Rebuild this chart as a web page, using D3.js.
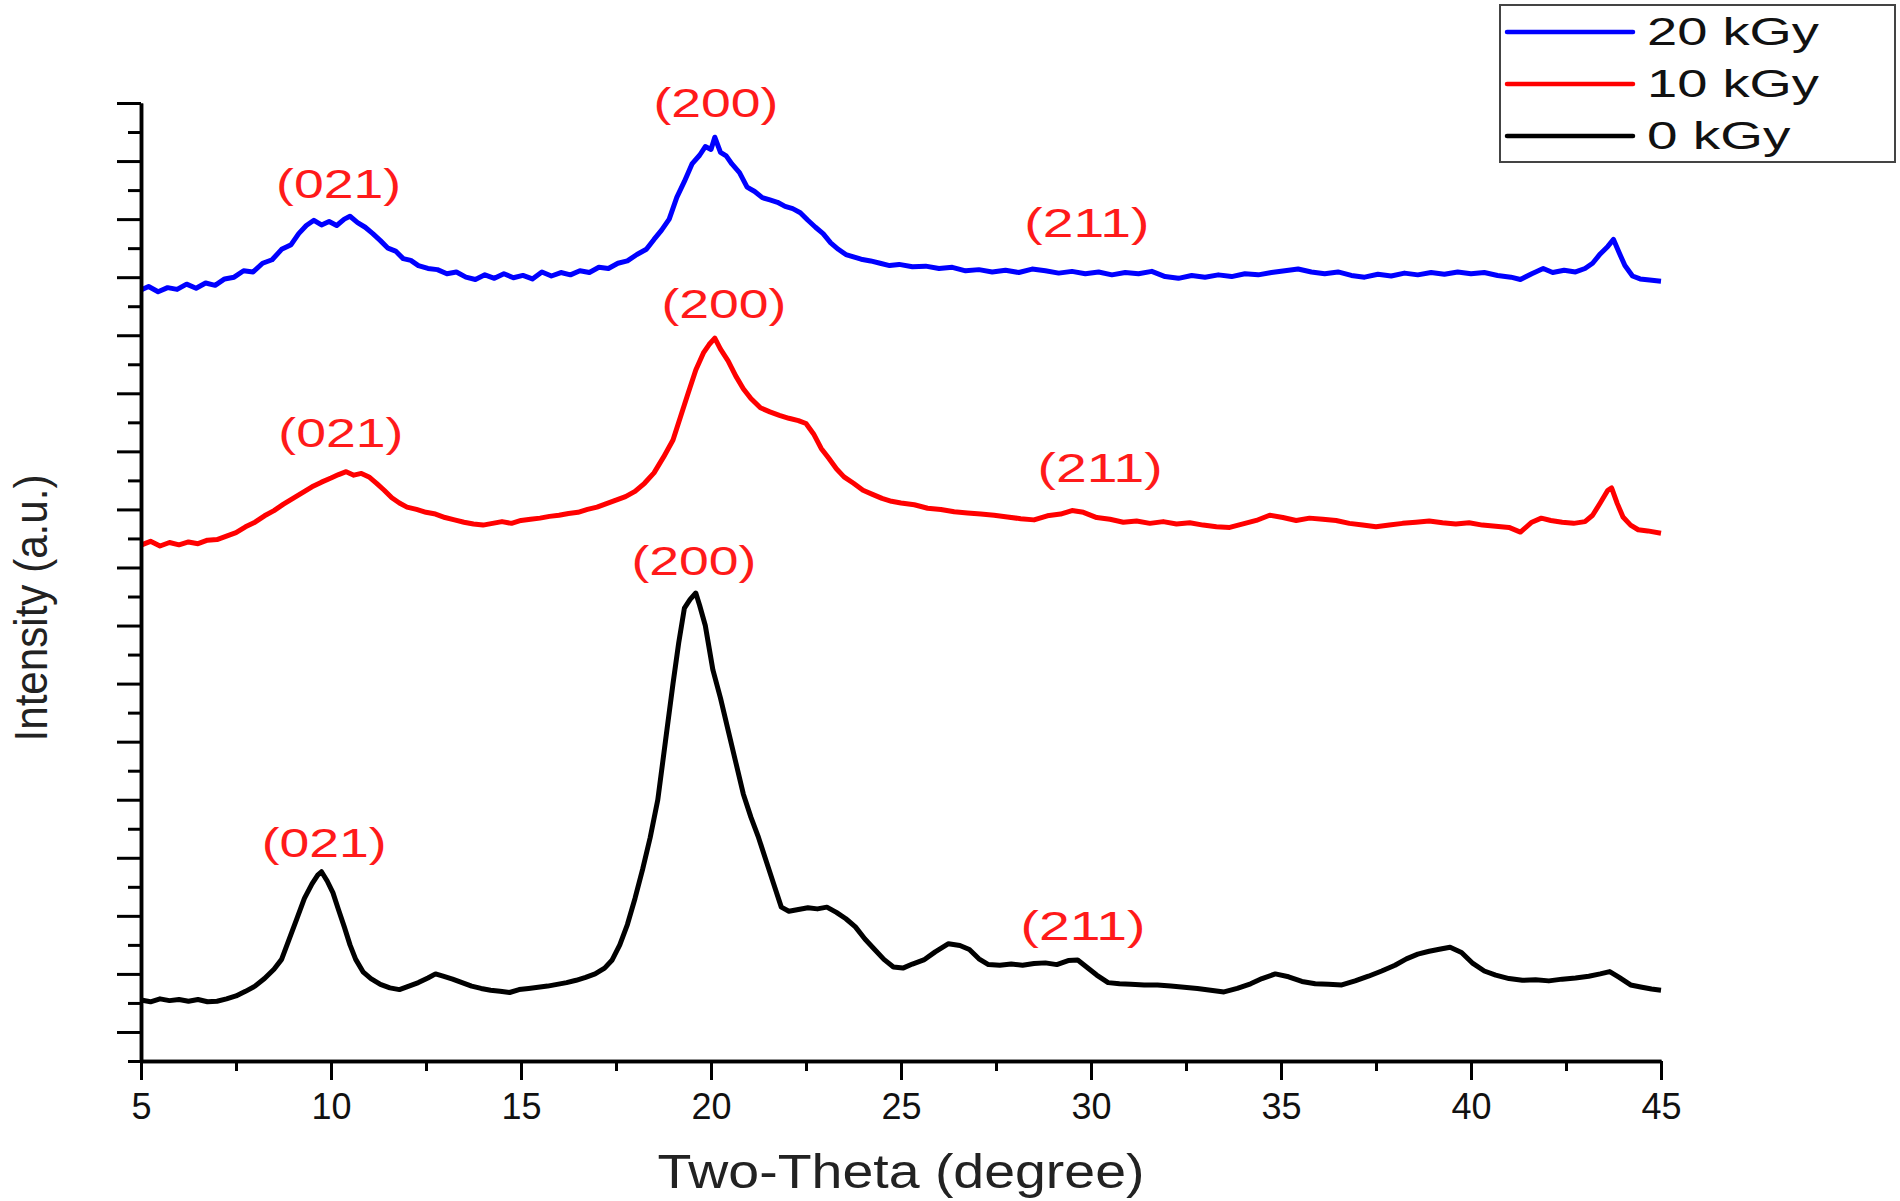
<!DOCTYPE html>
<html>
<head>
<meta charset="utf-8">
<script src="https://cdn.jsdelivr.net/npm/d3@7"></script>
<style>
  body { margin: 0; background: #fff; }
  svg { display: block; font-family: "Liberation Sans", Arial, sans-serif; }
</style>
</head>
<body>
<script>
// XRD patterns: [two-theta (deg), intensity (a.u., offset as plotted)]
const kGy20 = [[5.0,2656],[5.2,2668],[5.45,2650],[5.7,2664],[5.95,2658],[6.2,2676],[6.45,2662],[6.7,2680],[6.95,2672],[7.2,2694],[7.45,2700],[7.7,2722],[7.95,2718],[8.2,2748],[8.45,2760],[8.7,2796],[8.95,2812],[9.15,2850],[9.35,2878],[9.55,2896],[9.75,2880],[9.95,2892],[10.15,2878],[10.35,2900],[10.5,2910],[10.7,2888],[10.9,2872],[11.1,2850],[11.3,2826],[11.5,2800],[11.7,2790],[11.9,2764],[12.1,2758],[12.3,2740],[12.55,2730],[12.8,2726],[13.05,2712],[13.3,2718],[13.55,2700],[13.8,2692],[14.05,2708],[14.3,2696],[14.55,2712],[14.8,2698],[15.05,2706],[15.3,2694],[15.55,2718],[15.8,2704],[16.05,2716],[16.3,2708],[16.55,2722],[16.8,2716],[17.05,2734],[17.3,2730],[17.55,2748],[17.8,2756],[18.05,2778],[18.3,2796],[18.5,2830],[18.7,2862],[18.9,2900],[19.1,2975],[19.3,3030],[19.5,3090],[19.7,3120],[19.85,3150],[20.0,3140],[20.1,3182],[20.25,3130],[20.4,3118],[20.55,3090],[20.75,3060],[20.95,3010],[21.15,2995],[21.35,2974],[21.55,2966],[21.75,2958],[21.95,2944],[22.15,2936],[22.35,2922],[22.55,2896],[22.75,2872],[22.95,2850],[23.15,2818],[23.35,2796],[23.55,2778],[23.75,2770],[23.95,2762],[24.2,2756],[24.45,2748],[24.7,2740],[24.95,2744],[25.3,2736],[25.65,2738],[26.0,2730],[26.35,2734],[26.7,2722],[27.05,2726],[27.4,2718],[27.75,2724],[28.1,2716],[28.45,2728],[28.8,2722],[29.15,2714],[29.5,2720],[29.85,2712],[30.2,2718],[30.55,2708],[30.9,2716],[31.25,2712],[31.6,2720],[31.95,2702],[32.3,2696],[32.65,2706],[33.0,2700],[33.35,2708],[33.7,2702],[34.05,2712],[34.4,2708],[34.75,2716],[35.1,2722],[35.45,2728],[35.8,2718],[36.15,2712],[36.5,2718],[36.85,2706],[37.2,2700],[37.55,2710],[37.9,2704],[38.25,2714],[38.6,2708],[38.95,2716],[39.3,2710],[39.65,2718],[40.0,2712],[40.35,2716],[40.7,2706],[41.05,2700],[41.3,2692],[41.6,2712],[41.9,2730],[42.15,2716],[42.45,2724],[42.75,2718],[43.0,2730],[43.2,2748],[43.4,2780],[43.6,2806],[43.75,2830],[43.9,2784],[44.05,2740],[44.25,2704],[44.45,2694],[44.7,2690],[45.0,2686]];

const kGy10 = [[5.0,1777],[5.25,1790],[5.5,1774],[5.75,1786],[6.0,1778],[6.25,1788],[6.5,1782],[6.75,1794],[7.0,1796],[7.25,1808],[7.5,1820],[7.75,1840],[8.0,1856],[8.25,1878],[8.5,1896],[8.75,1918],[9.0,1938],[9.25,1958],[9.5,1978],[9.75,1994],[10.0,2008],[10.2,2020],[10.4,2030],[10.6,2018],[10.8,2024],[11.0,2012],[11.2,1990],[11.4,1966],[11.6,1940],[11.8,1922],[12.0,1908],[12.25,1900],[12.5,1890],[12.75,1884],[13.0,1872],[13.25,1864],[13.5,1856],[13.75,1850],[14.0,1846],[14.25,1852],[14.5,1858],[14.75,1852],[15.0,1862],[15.25,1866],[15.5,1870],[15.75,1876],[16.0,1880],[16.25,1886],[16.5,1890],[16.75,1900],[17.0,1908],[17.25,1920],[17.5,1932],[17.75,1944],[18.0,1962],[18.25,1990],[18.5,2026],[18.75,2080],[19.0,2139],[19.2,2220],[19.4,2301],[19.6,2380],[19.8,2439],[19.95,2468],[20.1,2490],[20.25,2452],[20.45,2412],[20.65,2360],[20.85,2316],[21.05,2282],[21.3,2250],[21.55,2236],[21.8,2224],[22.05,2214],[22.3,2206],[22.5,2196],[22.7,2160],[22.9,2110],[23.1,2076],[23.3,2040],[23.5,2012],[23.75,1990],[24.0,1966],[24.25,1952],[24.5,1938],[24.75,1928],[25.0,1922],[25.35,1916],[25.7,1904],[26.05,1900],[26.4,1892],[26.75,1888],[27.1,1884],[27.45,1880],[27.8,1874],[28.15,1868],[28.5,1864],[28.85,1878],[29.2,1884],[29.5,1896],[29.8,1890],[30.15,1872],[30.5,1866],[30.85,1856],[31.2,1860],[31.55,1852],[31.9,1858],[32.25,1850],[32.6,1854],[32.95,1846],[33.3,1840],[33.65,1838],[34.0,1850],[34.35,1862],[34.7,1880],[35.05,1872],[35.4,1862],[35.75,1870],[36.1,1866],[36.45,1862],[36.8,1852],[37.15,1846],[37.5,1840],[37.85,1846],[38.2,1852],[38.55,1856],[38.9,1860],[39.25,1854],[39.6,1850],[39.95,1854],[40.3,1846],[40.65,1842],[41.0,1838],[41.3,1822],[41.6,1856],[41.85,1870],[42.1,1862],[42.4,1856],[42.7,1852],[43.0,1858],[43.2,1880],[43.4,1922],[43.6,1966],[43.7,1974],[43.85,1920],[44.0,1874],[44.2,1846],[44.4,1830],[44.65,1826],[45.0,1818]];

const kGy0 = [[5.0,210],[5.25,204],[5.5,214],[5.75,208],[6.0,212],[6.25,206],[6.5,212],[6.75,204],[7.0,206],[7.25,214],[7.5,224],[7.75,240],[8.0,258],[8.25,284],[8.5,316],[8.7,350],[8.9,420],[9.1,490],[9.3,560],[9.5,610],[9.65,640],[9.75,652],[9.9,620],[10.05,580],[10.2,520],[10.35,462],[10.5,400],[10.65,350],[10.85,306],[11.05,284],[11.3,264],[11.55,252],[11.8,246],[12.05,258],[12.3,270],[12.55,286],[12.75,300],[12.95,292],[13.2,282],[13.45,270],[13.7,258],[13.95,250],[14.2,244],[14.45,240],[14.7,236],[14.95,246],[15.2,250],[15.45,254],[15.7,258],[15.95,264],[16.2,270],[16.45,278],[16.7,288],[16.95,300],[17.2,320],[17.4,348],[17.6,400],[17.8,470],[18.0,560],[18.2,660],[18.4,770],[18.6,900],[18.8,1100],[19.0,1300],[19.15,1440],[19.3,1560],[19.45,1590],[19.6,1612],[19.7,1570],[19.85,1500],[20.05,1347],[20.25,1250],[20.45,1140],[20.65,1030],[20.85,920],[21.05,840],[21.25,770],[21.45,690],[21.65,610],[21.85,530],[22.05,516],[22.3,522],[22.55,528],[22.8,524],[23.05,530],[23.3,512],[23.55,490],[23.8,462],[24.05,420],[24.3,385],[24.55,350],[24.8,324],[25.05,320],[25.3,334],[25.6,348],[25.9,376],[26.25,404],[26.55,398],[26.8,384],[27.05,352],[27.3,332],[27.6,330],[27.9,334],[28.2,330],[28.5,336],[28.8,338],[29.1,332],[29.4,346],[29.65,348],[29.9,322],[30.15,296],[30.45,270],[30.75,266],[31.05,264],[31.4,262],[31.75,262],[32.1,258],[32.45,254],[32.8,250],[33.15,244],[33.5,238],[33.85,250],[34.2,266],[34.5,284],[34.85,300],[35.2,290],[35.55,274],[35.9,266],[36.25,264],[36.6,262],[36.95,276],[37.3,292],[37.65,310],[38.0,330],[38.3,352],[38.6,368],[38.9,378],[39.2,386],[39.45,392],[39.75,374],[40.05,336],[40.35,310],[40.65,296],[41.0,284],[41.35,278],[41.7,280],[42.05,276],[42.4,282],[42.75,286],[43.1,292],[43.4,300],[43.65,308],[43.9,288],[44.2,262],[44.5,254],[44.75,248],[45.0,244]];

const seriesNames = ["20 kGy", "10 kGy", "0 kGy"];
const seriesColors = ["#0000ff", "#ff0000", "#000000"];
const xTicks = [5, 10, 15, 20, 25, 30, 35, 40, 45];
const xMinorTicks = [7.5, 12.5, 17.5, 22.5, 27.5, 32.5, 37.5, 42.5];

// Miller index labels: [label, two-theta, intensity at baseline]
const peakLabels = [
  ["(021)", 10.2, 2973], ["(200)", 20.13, 3253], ["(211)", 29.89, 2838],
  ["(021)", 10.26, 2115], ["(200)", 20.34, 2559], ["(211)", 30.24, 1994],
  ["(021)", 9.82, 703], ["(200)", 19.55, 1675], ["(211)", 29.79, 417]
];

const W = 1900, H = 1201;
const margin = { top: 103, right: 239, bottom: 140, left: 141 };

const svg = d3.select("body").append("svg")
  .attr("width", W)
  .attr("height", H);

const x = d3.scaleLinear().domain([5, 45]).range([margin.left, W - margin.right]);
const y = d3.scaleLinear().domain([0, 3300]).range([H - margin.bottom, margin.top]);

// curves
const line = d3.line().x(d => x(d[0])).y(d => y(d[1]));
[kGy20, kGy10, kGy0].forEach((s, i) => {
  svg.append("path")
    .datum(s)
    .attr("d", line)
    .attr("fill", "none")
    .attr("stroke", seriesColors[i])
    .attr("stroke-width", 5)
    .attr("stroke-linejoin", "round");
});

// x axis: minor ticks in their own group, then major ticks with labels
svg.append("g")
  .attr("transform", "translate(0," + y(0) + ")")
  .call(d3.axisBottom(x).tickValues(xMinorTicks).tickSize(10).tickSizeOuter(0).tickFormat(""));
const gx = svg.append("g")
  .attr("transform", "translate(0," + y(0) + ")")
  .call(d3.axisBottom(x).tickValues(xTicks).tickSize(19).tickSizeOuter(0).tickPadding(13));

// y axis: no labels, short ticks on even hundreds, long on odd
svg.append("g")
  .attr("transform", "translate(" + x(5) + ",0)")
  .call(d3.axisLeft(y).tickValues(d3.range(0, 3301, 200)).tickSize(13).tickSizeOuter(0).tickFormat(""));
svg.append("g")
  .attr("transform", "translate(" + x(5) + ",0)")
  .call(d3.axisLeft(y).tickValues(d3.range(100, 3301, 200)).tickSize(24).tickSizeOuter(0).tickFormat(""));

svg.selectAll(".domain").attr("stroke", "#000").attr("stroke-width", 3.5);
svg.selectAll(".tick line").attr("stroke", "#000").attr("stroke-width", 3);
gx.selectAll(".tick text")
  .attr("font-size", 36)
  .attr("fill", "#111")
  .attr("font-family", "Liberation Sans, Arial, sans-serif");

// axis titles
svg.append("text")
  .attr("x", x(25))
  .attr("y", 1188)
  .attr("text-anchor", "middle")
  .attr("font-size", 48)
  .attr("fill", "#222")
  .attr("textLength", 487)
  .attr("lengthAdjust", "spacingAndGlyphs")
  .text("Two-Theta (degree)");

svg.append("text")
  .attr("transform", "translate(47,608) rotate(-90)")
  .attr("text-anchor", "middle")
  .attr("font-size", 46)
  .attr("fill", "#222")
  .attr("textLength", 267)
  .attr("lengthAdjust", "spacingAndGlyphs")
  .text("Intensity (a.u.)");

// peak labels
svg.append("g").selectAll("text")
  .data(peakLabels)
  .enter().append("text")
  .attr("x", d => x(d[1]))
  .attr("y", d => y(d[2]))
  .attr("text-anchor", "middle")
  .attr("font-size", 41)
  .attr("fill", "#ff1a1a")
  .attr("textLength", 125)
  .attr("lengthAdjust", "spacingAndGlyphs")
  .text(d => d[0]);

// legend
const legend = svg.append("g");
legend.append("rect")
  .attr("x", 1500).attr("y", 5)
  .attr("width", 395).attr("height", 157)
  .attr("fill", "#fff")
  .attr("stroke", "#444")
  .attr("stroke-width", 2);

const rows = legend.selectAll("g.row")
  .data(seriesNames)
  .enter().append("g")
  .attr("class", "row")
  .attr("transform", (d, i) => "translate(0," + (32 + i * 52) + ")");

rows.append("line")
  .attr("x1", 1507).attr("x2", 1633)
  .attr("stroke", (d, i) => seriesColors[i])
  .attr("stroke-width", 4.5)
  .attr("stroke-linecap", "round");

rows.append("text")
  .attr("x", 1647)
  .attr("y", 13)
  .attr("font-size", 39)
  .attr("fill", "#111")
  .attr("textLength", d => d.length * 172 / 6)
  .attr("lengthAdjust", "spacingAndGlyphs")
  .text(d => d);
</script>
</body>
</html>
